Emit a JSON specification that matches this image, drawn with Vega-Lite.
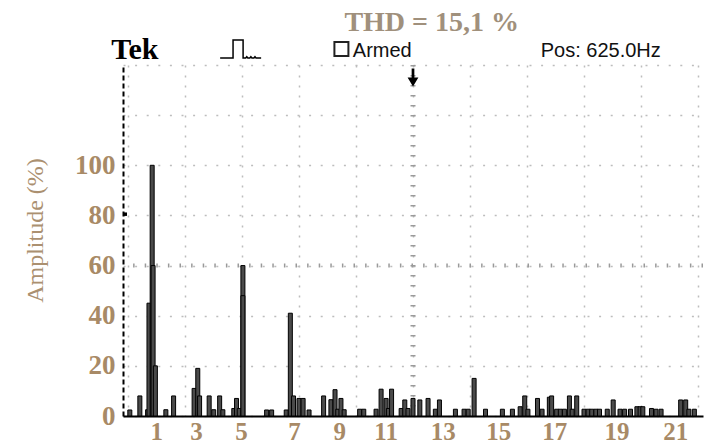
{
  "$schema": "https://vega.github.io/schema/vega-lite/v6.json",
  "width": 580,
  "height": 351,
  "autosize": {"type": "none"},
  "padding": {"left": 123, "top": 65, "right": 11, "bottom": 26},
  "background": "white",
  "config": {"view": {"stroke": null}},
  "datasets": {
    "spectrum": [
      {"freq": 4, "amp": 2.4}, {"freq": 26, "amp": 8}, {"freq": 43, "amp": 2.5},
      {"freq": 46, "amp": 45}, {"freq": 53, "amp": 100}, {"freq": 55, "amp": 60},
      {"freq": 60, "amp": 20}, {"freq": 83, "amp": 2.5}, {"freq": 100, "amp": 8},
      {"freq": 145, "amp": 11}, {"freq": 153, "amp": 19}, {"freq": 157, "amp": 8},
      {"freq": 178, "amp": 8}, {"freq": 188, "amp": 2.5}, {"freq": 201, "amp": 8},
      {"freq": 208, "amp": 2.5}, {"freq": 232, "amp": 3}, {"freq": 238, "amp": 7},
      {"freq": 244, "amp": 3}, {"freq": 252, "amp": 60}, {"freq": 252, "amp": 48},
      {"freq": 304, "amp": 2.4}, {"freq": 315, "amp": 2.4}, {"freq": 347, "amp": 2.4},
      {"freq": 356, "amp": 41}, {"freq": 363, "amp": 8}, {"freq": 375, "amp": 7},
      {"freq": 384, "amp": 7}, {"freq": 397, "amp": 2.4}, {"freq": 429, "amp": 8},
      {"freq": 445, "amp": 6.5}, {"freq": 454, "amp": 10.5}, {"freq": 460, "amp": 2.7},
      {"freq": 467, "amp": 7}, {"freq": 474, "amp": 2.5}, {"freq": 508, "amp": 2.7},
      {"freq": 517, "amp": 2.7}, {"freq": 544, "amp": 2.7}, {"freq": 555, "amp": 10.7},
      {"freq": 566, "amp": 7}, {"freq": 571, "amp": 3}, {"freq": 578, "amp": 10.7},
      {"freq": 599, "amp": 3}, {"freq": 607, "amp": 6.4}, {"freq": 614, "amp": 3},
      {"freq": 625, "amp": 7}, {"freq": 640, "amp": 6.4}, {"freq": 658, "amp": 7},
      {"freq": 674, "amp": 2.7}, {"freq": 683, "amp": 6.4}, {"freq": 718, "amp": 2.7},
      {"freq": 737, "amp": 2.7}, {"freq": 746, "amp": 2.7}, {"freq": 759, "amp": 15},
      {"freq": 784, "amp": 2.7}, {"freq": 821, "amp": 2.7}, {"freq": 843, "amp": 2.7},
      {"freq": 860, "amp": 3.7}, {"freq": 870, "amp": 8}, {"freq": 877, "amp": 2.7},
      {"freq": 898, "amp": 7}, {"freq": 908, "amp": 2.7}, {"freq": 924, "amp": 7.5},
      {"freq": 929, "amp": 8}, {"freq": 940, "amp": 2.7}, {"freq": 948, "amp": 2.7},
      {"freq": 957, "amp": 2.7}, {"freq": 968, "amp": 8}, {"freq": 974, "amp": 2.7},
      {"freq": 984, "amp": 8}, {"freq": 1000, "amp": 2.7}, {"freq": 1009, "amp": 2.7},
      {"freq": 1017, "amp": 2.7}, {"freq": 1026, "amp": 2.7}, {"freq": 1034, "amp": 2.7},
      {"freq": 1051, "amp": 2.7}, {"freq": 1064, "amp": 6.4}, {"freq": 1079, "amp": 2.7},
      {"freq": 1089, "amp": 2.7}, {"freq": 1102, "amp": 2.7}, {"freq": 1116, "amp": 3.7},
      {"freq": 1123, "amp": 3.7}, {"freq": 1129, "amp": 3.7}, {"freq": 1148, "amp": 3},
      {"freq": 1158, "amp": 2.7}, {"freq": 1169, "amp": 2.7}, {"freq": 1212, "amp": 6.4},
      {"freq": 1223, "amp": 6.4}, {"freq": 1230, "amp": 2.7}, {"freq": 1242, "amp": 2.7}
    ]
  },
  "resolve": {"axis": {"x": "independent", "y": "independent"}},
  "layer": [
    {
      "data": {"values": [{}]},
      "mark": {"type": "rule", "stroke": "#9a9a9a", "strokeWidth": 5, "strokeDash": [1.5, 8.5]},
      "encoding": {
        "x": {
          "datum": 625, "type": "quantitative",
          "scale": {"domain": [0, 1250], "nice": false, "zero": false},
          "axis": {
            "orient": "top", "values": [0, 125, 250, 375, 500, 625, 750, 875, 1000, 1125, 1250],
            "grid": true, "gridDash": [2, 8], "gridColor": "#bdbdbd", "gridWidth": 1.5,
            "domain": false, "ticks": false, "labels": false, "title": null
          }
        }
      }
    },
    {
      "data": {"values": [{}]},
      "mark": {"type": "rule", "stroke": "#9a9a9a", "strokeWidth": 4, "strokeDash": [1.5, 10.1]},
      "encoding": {
        "y": {
          "datum": 60, "type": "quantitative",
          "scale": {"domain": [0, 140], "nice": false, "zero": false},
          "axis": {
            "orient": "left",
            "values": [0, 20, 40, 60, 80, 100, 120, 140],
            "labelExpr": "datum.value <= 100 ? datum.label : ''",
            "grid": true, "gridDash": [2, 9.6], "gridColor": "#bdbdbd", "gridWidth": 1.5,
            "ticks": false,
            "domain": true, "domainColor": "#000000", "domainWidth": 2, "domainDash": [5, 3],
            "labelFont": "Liberation Serif", "labelFontWeight": "bold", "labelFontSize": 27,
            "labelColor": "#a88a66", "labelPadding": 8,
            "labelOverlap": false, "labelBound": false, "labelFlush": false,
            "title": "Amplitude (%)",
            "titleFont": "Liberation Serif", "titleFontWeight": "normal", "titleFontSize": 24,
            "titleColor": "#ab9070", "titleX": -88, "titleY": 165,
            "titleAlign": "center", "titleBaseline": "middle", "titleAngle": -90
          }
        }
      }
    },
    {
      "data": {"name": "spectrum"},
      "mark": {"type": "bar", "size": 4, "fill": "#4a4a4a", "stroke": "#000000", "strokeWidth": 1},
      "encoding": {
        "x": {
          "field": "freq", "type": "quantitative",
          "scale": {"domain": [0, 1250], "nice": false, "zero": false},
          "axis": {
            "orient": "bottom", "title": null,
            "values": [62, 149, 248, 364, 463, 565, 690, 812, 935, 1071, 1200],
            "labelExpr": "['1','3','5','7','9','11','13','15','17','19','21'][indexof([62, 149, 248, 364, 463, 565, 690, 812, 935, 1071, 1200], datum.value)]",
            "grid": false, "ticks": false,
            "domain": true, "domainColor": "#000000", "domainWidth": 2,
            "labelFont": "Liberation Serif", "labelFontWeight": "bold", "labelFontSize": 25,
            "labelColor": "#a88a66", "labelPadding": 3, "labelBaseline": "top",
            "labelOverlap": false, "labelBound": false, "labelFlush": false
          }
        },
        "y": {
          "field": "amp", "type": "quantitative", "stack": null,
          "scale": {"domain": [0, 140], "nice": false, "zero": false},
          "axis": null
        }
      }
    },
    {
      "data": {"values": [{}]},
      "mark": {"type": "point", "shape": "square", "size": 12, "filled": true, "fill": "#000000", "stroke": null, "opacity": 1},
      "encoding": {
        "x": {"datum": -6, "type": "quantitative", "scale": {"domain": [0, 1250], "nice": false, "zero": false}, "axis": null},
        "y": {"datum": 80.5, "type": "quantitative", "scale": {"domain": [0, 140], "nice": false, "zero": false}, "axis": null}
      }
    },
    {
      "data": {"values": [{}]},
      "mark": {"type": "point", "shape": "M-0.15,-1 L0.15,-1 L0.15,0 L0.6,0 L0,1 L-0.6,0 L-0.15,0 Z", "size": 324, "filled": true, "fill": "#000000", "stroke": null, "opacity": 1},
      "encoding": {
        "x": {"datum": 625, "type": "quantitative", "scale": {"domain": [0, 1250], "nice": false, "zero": false}, "axis": null},
        "y": {"datum": 135, "type": "quantitative", "scale": {"domain": [0, 140], "nice": false, "zero": false}, "axis": null}
      }
    },
    {
      "data": {"values": [{}]},
      "mark": {"type": "text", "text": "Tek", "font": "Liberation Serif", "fontWeight": "bold", "fontSize": 30, "align": "center", "baseline": "alphabetic", "color": "#000000"},
      "encoding": {
        "x": {"datum": 15, "type": "quantitative", "scale": {"domain": [0, 1250], "nice": false, "zero": false}, "axis": null},
        "y": {"datum": 142.4, "type": "quantitative", "scale": {"domain": [0, 140], "nice": false, "zero": false}, "axis": null}
      }
    },
    {
      "data": {"values": [{}]},
      "mark": {"type": "point", "shape": "M-1,0.44 L-0.37,0.44 L-0.37,-0.44 L0.12,-0.44 L0.12,0.44 L0.25,0.44 L0.3,0.38 L0.35,0.44 L0.45,0.44 L0.5,0.38 L0.55,0.44 L0.65,0.44 L0.7,0.38 L0.75,0.44 L1,0.44", "size": 1681, "filled": false, "stroke": "#000000", "strokeWidth": 1.5, "opacity": 1},
      "encoding": {
        "x": {"datum": 247, "type": "quantitative", "scale": {"domain": [0, 1250], "nice": false, "zero": false}, "axis": null},
        "y": {"datum": 146.4, "type": "quantitative", "scale": {"domain": [0, 140], "nice": false, "zero": false}, "axis": null}
      }
    },
    {
      "data": {"values": [{}]},
      "mark": {"type": "point", "shape": "square", "size": 196, "filled": false, "stroke": "#222222", "strokeWidth": 2, "opacity": 1},
      "encoding": {
        "x": {"datum": 468, "type": "quantitative", "scale": {"domain": [0, 1250], "nice": false, "zero": false}, "axis": null},
        "y": {"datum": 146.4, "type": "quantitative", "scale": {"domain": [0, 140], "nice": false, "zero": false}, "axis": null}
      }
    },
    {
      "data": {"values": [{}]},
      "mark": {"type": "text", "text": "Armed", "font": "Liberation Sans", "fontSize": 20, "align": "left", "baseline": "alphabetic", "color": "#111111"},
      "encoding": {
        "x": {"datum": 493, "type": "quantitative", "scale": {"domain": [0, 1250], "nice": false, "zero": false}, "axis": null},
        "y": {"datum": 143.2, "type": "quantitative", "scale": {"domain": [0, 140], "nice": false, "zero": false}, "axis": null}
      }
    },
    {
      "data": {"values": [{}]},
      "mark": {"type": "text", "text": "Pos: 625.0Hz", "font": "Liberation Sans", "fontSize": 20, "align": "left", "baseline": "alphabetic", "color": "#111111"},
      "encoding": {
        "x": {"datum": 905, "type": "quantitative", "scale": {"domain": [0, 1250], "nice": false, "zero": false}, "axis": null},
        "y": {"datum": 143.2, "type": "quantitative", "scale": {"domain": [0, 140], "nice": false, "zero": false}, "axis": null}
      }
    },
    {
      "data": {"values": [{}]},
      "mark": {"type": "text", "text": "THD = 15,1 %", "font": "Liberation Serif", "fontWeight": "bold", "fontSize": 28, "align": "center", "baseline": "alphabetic", "color": "#a0907c"},
      "encoding": {
        "x": {"datum": 666, "type": "quantitative", "scale": {"domain": [0, 1250], "nice": false, "zero": false}, "axis": null},
        "y": {"datum": 153.6, "type": "quantitative", "scale": {"domain": [0, 140], "nice": false, "zero": false}, "axis": null}
      }
    }
  ]
}
